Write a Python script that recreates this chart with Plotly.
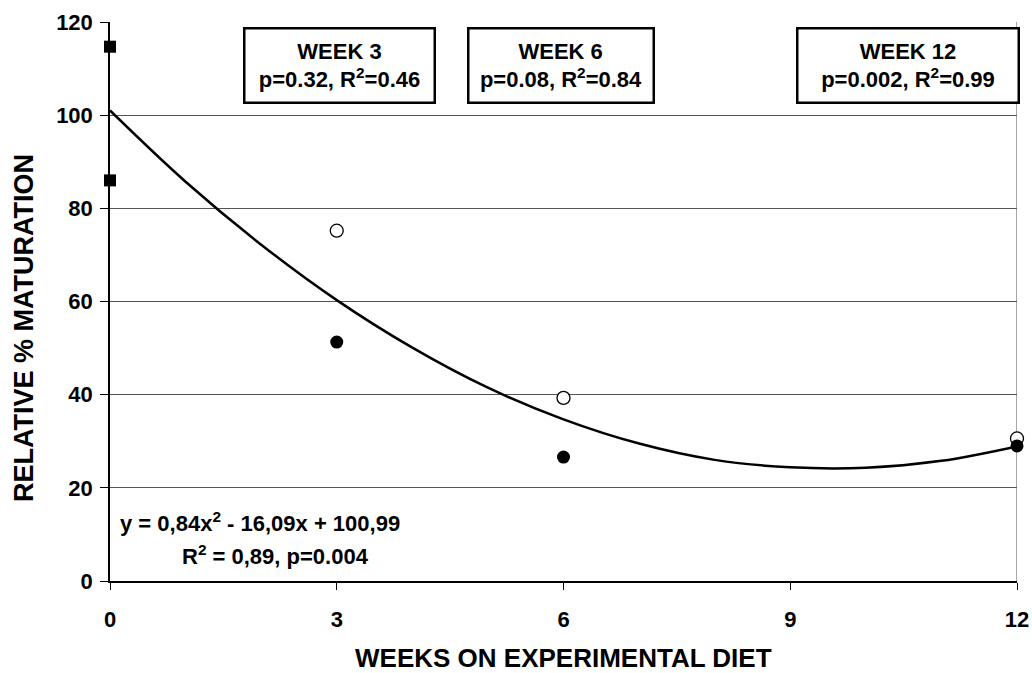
import plotly.graph_objects as go

# Data
baseline_x = [0, 0]
baseline_y = [114.7, 86.0]
open_x = [3, 6, 12]
open_y = [75.2, 39.3, 30.6]
filled_x = [3, 6, 12]
filled_y = [51.3, 26.6, 29.0]
trend_x = [0, 1, 2, 3, 4, 5, 6, 7, 8, 9, 10, 11, 12]
trend_y = [101.0, 85.7, 72.2, 60.3, 50.1, 41.5, 34.7, 29.5, 26.0, 24.4, 24.3, 25.8, 28.9]
x_ticks = [0, 3, 6, 9, 12]
y_ticks = [0, 20, 40, 60, 80, 100, 120]
box_titles = ["WEEK 3", "WEEK 6", "WEEK 12"]
box_stats = ["p=0.32, R<sup>2</sup>=0.46", "p=0.08, R<sup>2</sup>=0.84", "p=0.002, R<sup>2</sup>=0.99"]
box_x = [3.04, 5.97, 10.56]
box_w = [180, 175, 211]
x_title = "WEEKS ON EXPERIMENTAL DIET"
y_title = "RELATIVE % MATURATION"

FONT = "Liberation Sans, Arial, sans-serif"

fig = go.Figure()
fig.add_trace(go.Scatter(x=trend_x, y=trend_y, mode="lines",
                         line=dict(color="black", width=2.5, shape="spline"),
                         hoverinfo="skip", showlegend=False))
fig.add_trace(go.Scatter(x=baseline_x, y=baseline_y, mode="markers",
                         marker=dict(symbol="square", size=12, color="black"),
                         showlegend=False, cliponaxis=False))
fig.add_trace(go.Scatter(x=open_x, y=open_y, mode="markers",
                         marker=dict(symbol="circle", size=13, color="white",
                                     line=dict(color="black", width=1.3)),
                         showlegend=False, cliponaxis=False))
fig.add_trace(go.Scatter(x=filled_x, y=filled_y, mode="markers",
                         marker=dict(symbol="circle", size=13, color="black"),
                         showlegend=False, cliponaxis=False))

for xc, w, t1, t2 in zip(box_x, box_w, box_titles, box_stats):
    fig.add_annotation(x=xc, y=110.6, xref="x", yref="y",
                       text="<b>" + t1 + "<br>" + t2 + "</b>",
                       showarrow=False, align="center", width=w, height=64,
                       font=dict(family=FONT, size=22, color="black"),
                       bordercolor="black", borderwidth=2.5, borderpad=4,
                       bgcolor="white")

fig.add_annotation(x=0.1, y=12.7, xref="x", yref="y", xanchor="left",
                   text="<b>y = 0,84x<sup>2</sup> - 16,09x + 100,99</b>",
                   showarrow=False, font=dict(family=FONT, size=22, color="black"))
fig.add_annotation(x=0.93, y=5.5, xref="x", yref="y", xanchor="left",
                   text="<b>R<sup>2</sup> = 0,89, p=0.004</b>",
                   showarrow=False, font=dict(family=FONT, size=22, color="black"))

# axis titles
fig.add_annotation(x=0.5, y=-0.1377, xref="paper", yref="paper",
                   text="<b>" + x_title + "</b>", showarrow=False,
                   xanchor="center", yanchor="middle",
                   font=dict(family=FONT, size=26, color="black"))
fig.add_annotation(x=-0.0948, y=0.4526, xref="paper", yref="paper",
                   text="<b>" + y_title + "</b>", showarrow=False, textangle=-90,
                   xanchor="center", yanchor="middle",
                   font=dict(family=FONT, size=27, color="black"))

# right border (gray)
fig.add_shape(type="line", x0=12, x1=12, y0=0, y1=120, xref="x", yref="y",
              line=dict(color="#888888", width=1.5), layer="below")

fig.update_layout(
    width=1032, height=673,
    margin=dict(l=110, r=15, t=22, b=92, autoexpand=False),
    paper_bgcolor="white", plot_bgcolor="white",
    font=dict(family=FONT, color="black"),
    xaxis=dict(range=[0, 12], tickvals=x_ticks,
               ticktext=["<b>%d</b>" % v for v in x_ticks],
               ticks="outside", ticklen=7, automargin=False,
               tickcolor="black", showline=True, linecolor="black", linewidth=1.5,
               showgrid=False, zeroline=False, ticklabelstandoff=11,
               tickfont=dict(family=FONT, size=22, color="black")),
    yaxis=dict(range=[0, 120], tickvals=y_ticks,
               ticktext=["<b>%d</b>" % v for v in y_ticks],
               ticks="outside", ticklen=8, automargin=False,
               tickcolor="black", showline=True, linecolor="black", linewidth=1.5,
               showgrid=True, gridcolor="#555555", gridwidth=1, zeroline=False,
               ticklabelstandoff=3,
               tickfont=dict(family=FONT, size=22, color="black")),
)

fig.write_html("out.html")
